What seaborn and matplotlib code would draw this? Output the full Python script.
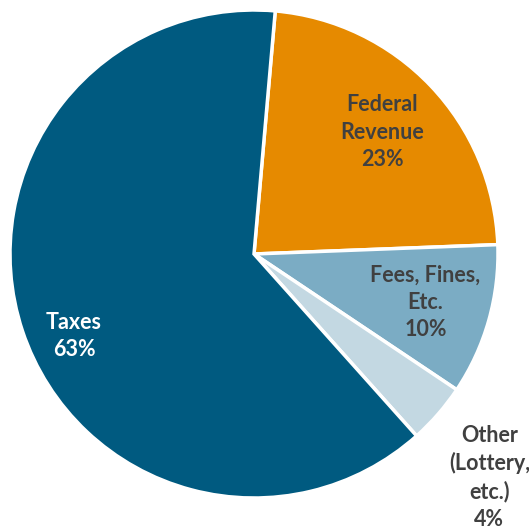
import numpy as np
import matplotlib
matplotlib.use("Agg")
import matplotlib.pyplot as plt
import seaborn as sns

categories = ["Federal\nRevenue", "Fees, Fines,\nEtc.", "Other\n(Lottery,\netc.)", "Taxes"]
shares = [23, 10, 4, 63]
colors = ["#E68A00", "#7BACC4", "#C3D8E2", "#005A80"]
text_colors = ["#404040", "#404040", "#404040", "#FFFFFF"]
label_radius = [0.725, 0.73, 1.33, 0.81]
label_angle_shift = [0, 0, -2.5, 6]

sns.set_theme(style="white")
plt.rcParams["font.family"] = ["Lato", "DejaVu Sans"]

fig = plt.figure(figsize=(5.29, 5.29), dpi=100)
ax = fig.add_axes([10/529, 31/529, 488/529, 488/529])
wedges, _ = ax.pie(shares, colors=colors, startangle=85, counterclock=False,
                   wedgeprops=dict(edgecolor="white", linewidth=2.5))
ax.set_xlim(-1, 1)
ax.set_ylim(-1, 1)
ax.set_aspect("equal")
ax.axis("off")
for w, cat, val, tc, r, sh in zip(wedges, categories, shares, text_colors, label_radius, label_angle_shift):
    ang = np.deg2rad((w.theta1 + w.theta2) / 2 + sh)
    ax.text(r*np.cos(ang), r*np.sin(ang), f"{cat}\n{val}%", ha="center", va="center",
            color=tc, fontsize=15.5, fontweight="bold", linespacing=1.37, clip_on=False)
fig.savefig("out.png", dpi=100)
